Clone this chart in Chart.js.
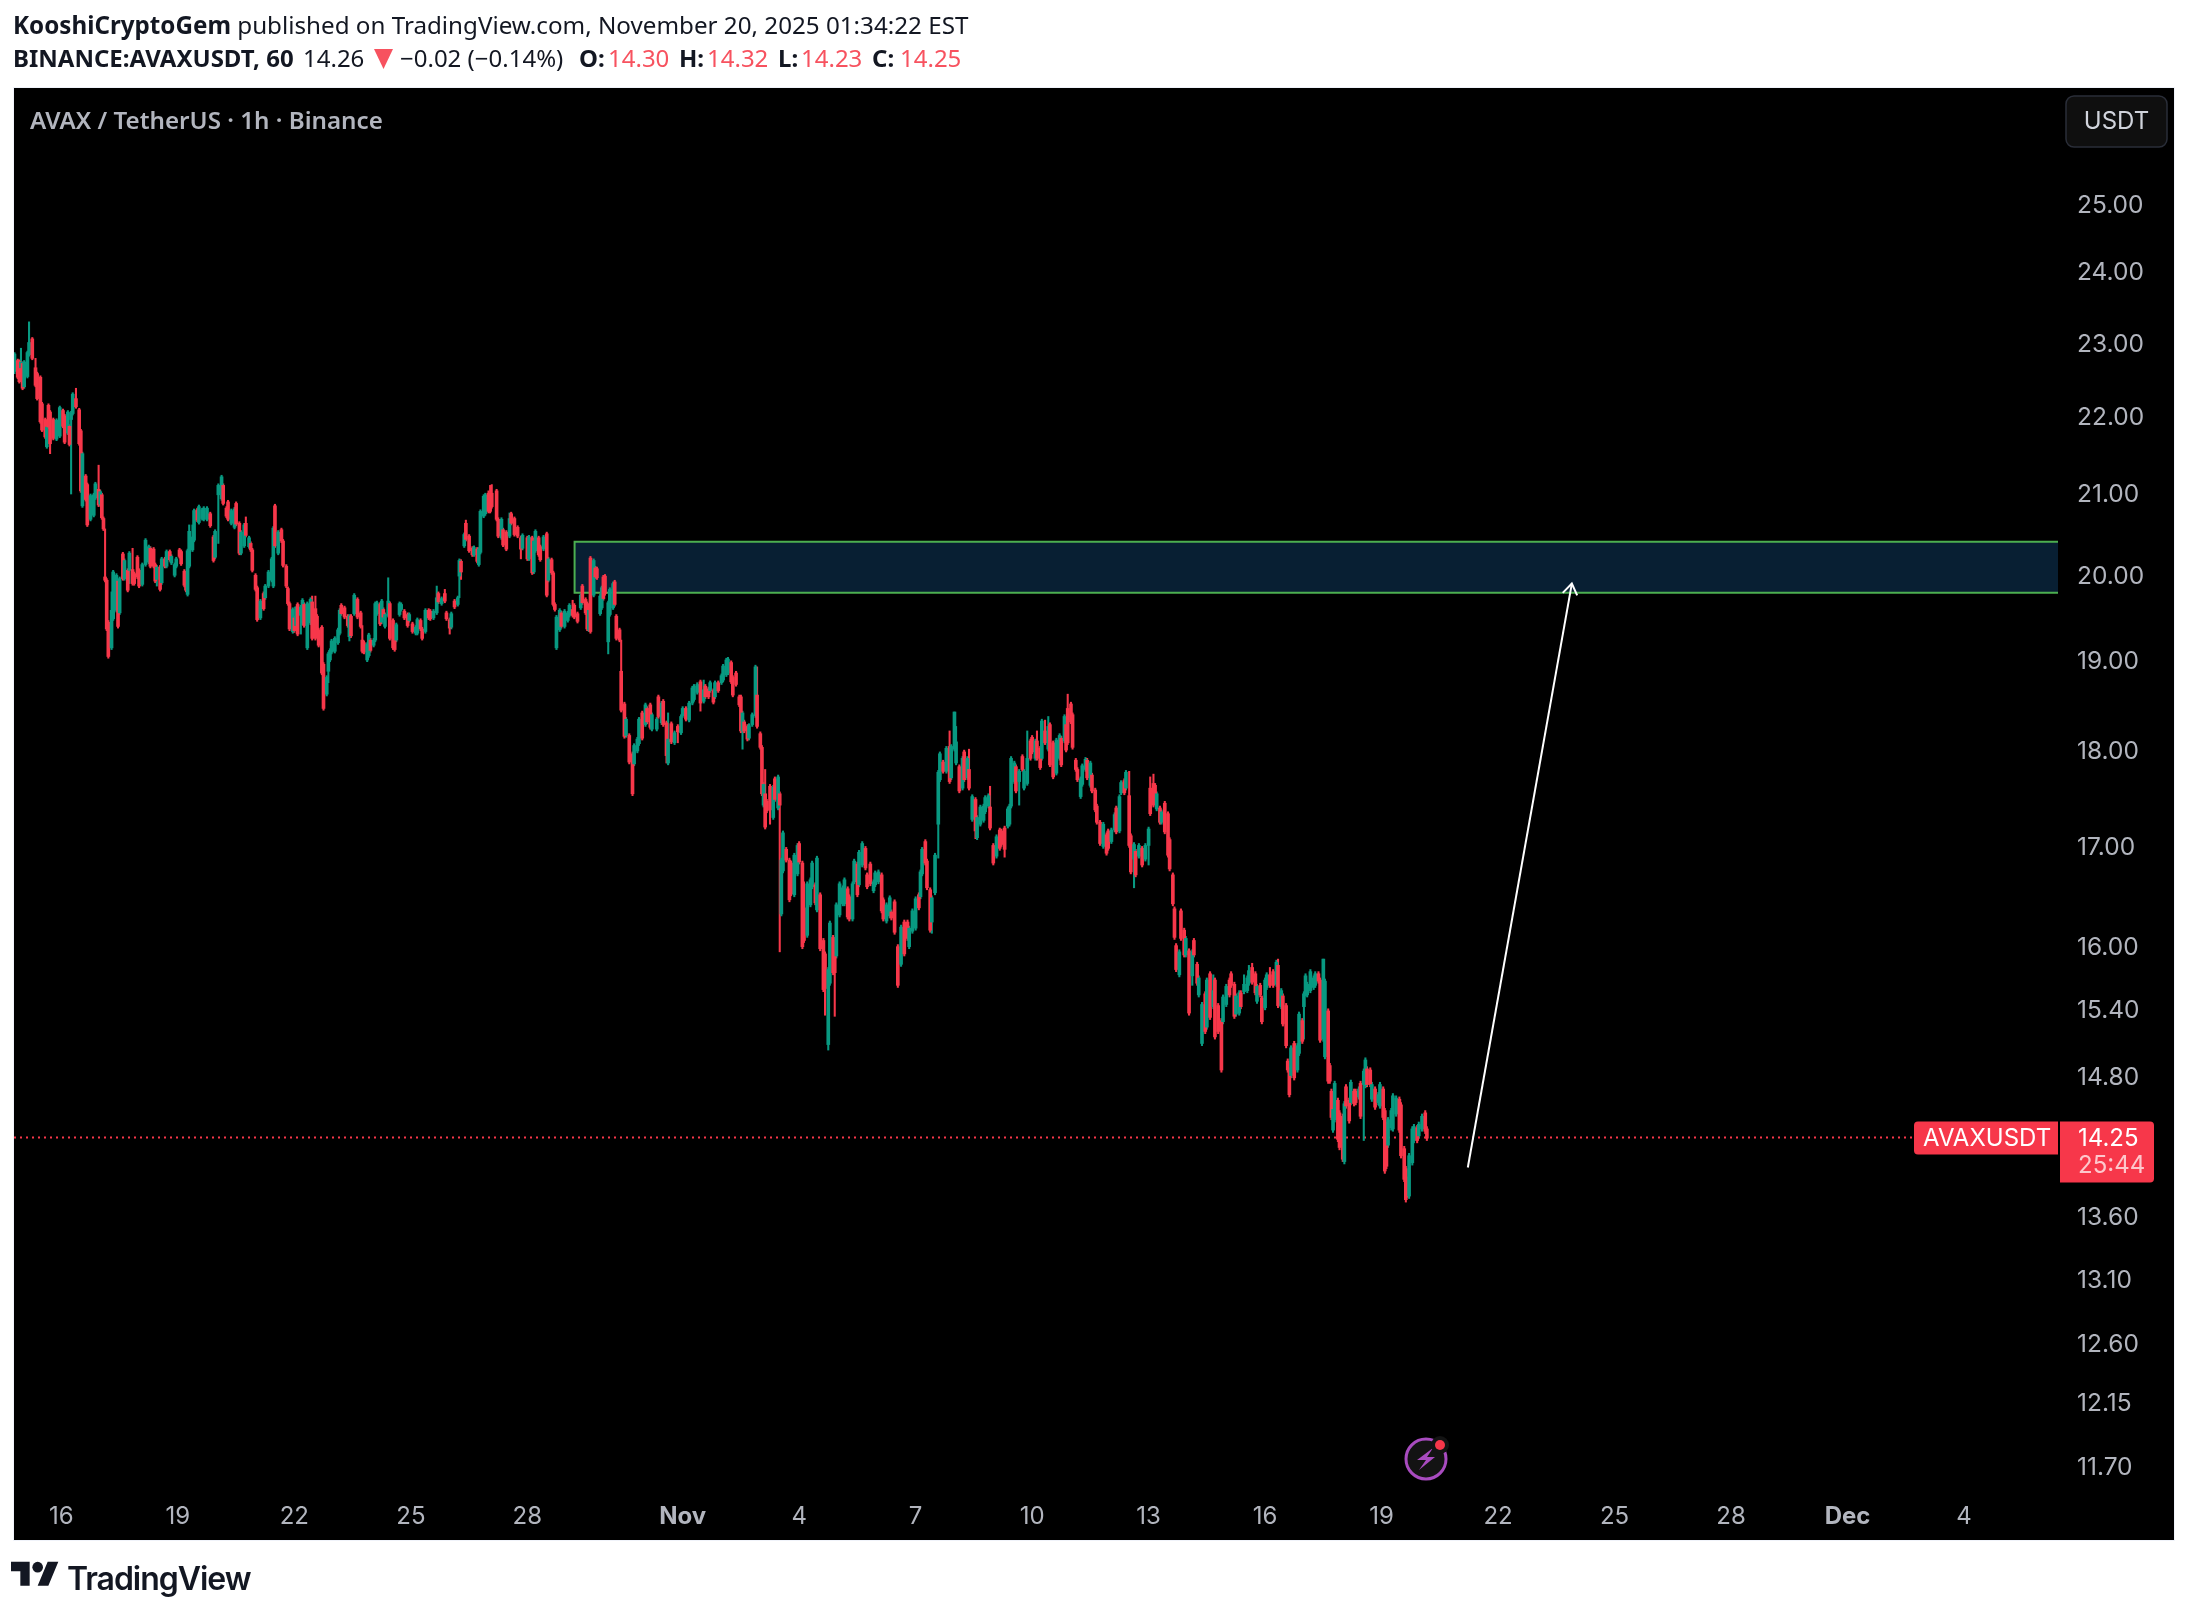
<!DOCTYPE html>
<html><head><meta charset="utf-8">
<script src="https://cdn.jsdelivr.net/npm/chart.js@4/dist/chart.umd.js"></script>
<style>
html,body{margin:0;padding:0;background:#fff;width:2188px;height:1614px;overflow:hidden}
canvas{position:absolute;left:0;top:0}
.t{position:absolute;white-space:pre;font-family:"Noto Sans",sans-serif;color:#131722}
.l2{top:41px;font-size:24px;line-height:34px}
b{font-weight:700}.r{color:#f7525f}
</style></head><body>
<canvas id="c" width="2188" height="1614"></canvas>
<div class="t" style="left:13px;top:8px;font-size:24.2px;line-height:34px"><b>KooshiCryptoGem</b> published on TradingView.com, November 20, 2025 01:34:22 EST</div>
<div class="t l2" style="left:13px"><b>BINANCE:AVAXUSDT, 60</b></div>
<div class="t l2" style="left:303px">14.26</div>
<svg style="position:absolute;left:374px;top:49px" width="19" height="20" viewBox="0 0 19 20"><path fill="#f7525f" d="M0 0H19L9.5 20Z"/></svg>
<div class="t l2" style="left:400px">−0.02 (−0.14%)</div>
<div class="t l2" style="left:579px"><b>O:</b></div><div class="t l2 r" style="left:608px">14.30</div>
<div class="t l2" style="left:679px"><b>H:</b></div><div class="t l2 r" style="left:707px">14.32</div>
<div class="t l2" style="left:778px"><b>L:</b></div><div class="t l2 r" style="left:801px">14.23</div>
<div class="t l2" style="left:872px"><b>C:</b></div><div class="t l2 r" style="left:900px">14.25</div>
<div class="t" style="left:30px;top:103px;font-size:24.2px;line-height:34px;color:#b2b5be;font-weight:600">AVAX / TetherUS · 1h · Binance</div>
<svg style="position:absolute;left:11px;top:1559px" width="48" height="31" viewBox="0 2 36 23"><path fill="#131722" d="M14 22H7V11H0V4h14v18zM28 22h-8l7.5-18h8L28 22z"/><circle fill="#131722" cx="20" cy="8" r="4"/></svg>
<div class="t" style="left:67px;top:1557px;font-size:32px;line-height:44px;font-family:Inter,sans-serif;font-weight:600;letter-spacing:-1.05px">TradingView</div>
<script>
const hoursA=[-29,-27,-26,-25,-24,-23,-21,-20,-18,-16,-15,-13,-12,-10,-9,-8,-7,-5,-3,-1,1,2,4,5,6,7,9,11,12,13,15,16,18,20,21,23,24,25,26,27,28,29,31,32,34,35,36,38,39,41,42,44,45,47,48,50,52,54,55,57,58,59,61,62,64,65,67,68,70,71,73,74,76,77,78,79,81,82,84,85,87,88,90,92,94,95,97,99,100,102,103,105,107,108,110,111,113,114,116,117,118,120,121,123,125,126,128,130,131,132,134,136,137,139,140,141,143,144,145,146];
const opensA=[22.63,22.78,22.77,22.68,22.74,22.42,22.56,22.86,23.08,22.68,22.60,22.55,22.19,21.98,21.62,22.17,22.08,21.98,21.72,21.76,22.10,22.03,21.80,21.89,21.98,22.06,22.26,22.11,21.83,20.86,21.24,21.13,20.69,20.74,20.96,21.07,20.88,21.00,20.70,19.98,19.94,19.44,19.14,19.48,19.58,19.93,19.55,20.26,19.96,20.06,20.06,20.07,20.02,20.22,20.06,19.89,20.13,20.16,20.33,20.32,20.13,19.95,20.10,19.91,20.20,20.11,20.29,20.15,20.00,20.11,20.31,20.29,20.05,20.02,19.77,20.11,20.31,20.43,20.81,20.65,20.70,20.69,20.69,20.76,20.47,20.22,21.00,20.95,21.12,20.83,20.91,20.64,20.59,20.89,20.64,20.27,20.36,20.64,20.35,20.39,20.31,20.00,19.85,19.49,19.78,19.73,19.87,19.94,19.87,20.86,20.27,20.56,20.42,20.11,19.84,19.66,19.33,19.49,19.40,19.65];
const closesA=[22.87,22.55,22.49,22.76,22.40,22.76,22.89,23.03,22.81,22.44,22.26,21.95,21.84,21.75,21.88,21.88,21.66,21.73,21.97,22.14,21.89,21.68,22.08,21.65,22.07,22.32,22.15,21.66,21.05,21.53,20.94,20.62,20.99,21.00,21.14,20.87,21.04,20.71,20.57,19.94,19.36,19.04,19.58,20.04,20.00,19.39,19.96,19.96,20.18,19.82,20.27,19.90,19.90,19.98,19.87,20.13,20.43,20.35,20.11,20.11,19.93,20.10,19.83,20.20,20.11,20.29,20.19,20.23,20.13,20.20,20.23,20.14,19.88,19.82,20.30,20.54,20.47,20.80,20.68,20.85,20.81,20.83,20.83,20.61,20.18,20.54,21.12,21.23,20.89,20.73,20.69,20.80,20.82,20.63,20.27,20.53,20.62,20.49,20.46,20.31,20.06,19.83,19.47,19.69,19.60,19.87,20.04,20.20,20.58,20.36,20.53,20.42,20.12,19.87,19.66,19.36,19.59,19.34,19.62,19.30];
const highsA=[22.89,22.80,22.79,22.95,22.76,22.78,22.91,23.32,23.10,22.81,22.62,22.57,22.21,22.00,21.90,22.19,22.10,22.00,21.99,22.16,22.12,22.05,22.10,21.91,22.09,22.34,22.40,22.13,21.85,21.55,21.26,21.15,21.01,21.02,21.16,21.38,21.06,21.02,20.72,20.57,19.96,19.46,19.80,20.06,20.02,19.95,19.98,20.28,20.20,20.08,20.29,20.33,20.04,20.24,20.08,20.15,20.45,20.37,20.35,20.34,20.15,20.12,20.12,20.22,20.22,20.31,20.31,20.25,20.15,20.22,20.33,20.31,20.07,20.04,20.32,20.62,20.62,20.82,20.83,20.87,20.83,20.85,20.85,20.78,20.49,20.56,21.14,21.25,21.14,20.85,20.93,20.82,20.84,20.91,20.66,20.55,20.64,20.72,20.48,20.41,20.33,20.02,19.87,19.71,19.80,19.89,20.06,20.22,20.60,20.88,20.55,20.58,20.44,20.13,19.86,19.68,19.61,19.51,19.62,19.67];
const lowsA=[22.60,22.53,22.47,22.64,22.38,22.40,22.54,22.84,22.79,22.42,22.24,21.93,21.82,21.73,21.60,21.86,21.53,21.71,21.70,21.74,21.87,21.66,21.78,21.63,21.01,22.04,22.13,21.64,21.03,20.84,20.92,20.60,20.67,20.72,20.94,20.85,20.86,20.69,20.55,19.92,19.34,19.02,19.12,19.46,19.56,19.37,19.53,19.94,19.94,19.80,19.90,19.88,19.88,19.96,19.85,19.87,20.11,20.14,20.09,20.09,19.91,19.87,19.81,19.89,20.09,20.09,20.17,20.13,19.98,20.09,20.21,20.12,19.86,19.80,19.75,20.09,20.29,20.41,20.66,20.63,20.68,20.67,20.67,20.59,20.16,20.20,20.39,20.93,20.87,20.71,20.67,20.62,20.57,20.61,20.25,20.25,20.34,20.47,20.33,20.29,20.04,19.81,19.45,19.47,19.58,19.71,19.85,19.92,19.85,20.34,20.25,20.40,20.10,19.85,19.64,19.34,19.31,19.32,19.38,19.28];
const hoursB=[148,149,150,152,154,155,157,158,159,161,162,164,165,166,167,169,171,172,173,175,177,178,179,181,183,185,186,187,189,190,191,193,194,195,197,198,199,200,202,203,205,206,207,209,210,212,214,215,217,219,220,222,223,225,227,228,230,232,233,235,237,238,240,241,243,245,246,247,249,250,252,254,255,257,258,259,261,262,264,265,266,269,270,272,273,275,277,278,280,282,284,285,288,289,291,292,293,295,296,298,300,301,303,304,305,306,308,309,311,313,314,316,317,319,321,322,324,325,326,327,329,330,331,333,334,335,336,338,339,341,342,343,345];
const opensB=[19.52,19.43,19.65,19.14,19.43,19.68,19.60,19.51,19.35,19.38,18.95,18.61,18.87,19.00,19.09,19.10,19.20,19.31,19.64,19.61,19.51,19.27,19.51,19.54,19.71,19.55,19.23,19.20,19.00,19.05,19.23,19.17,19.23,19.54,19.65,19.44,19.59,19.39,19.52,19.66,19.46,19.36,19.23,19.53,19.59,19.57,19.53,19.46,19.42,19.31,19.31,19.46,19.36,19.33,19.58,19.57,19.49,19.55,19.78,19.66,19.78,19.55,19.47,19.38,19.69,19.65,19.99,20.17,20.36,20.64,20.48,20.33,20.25,20.32,20.13,20.28,20.73,20.76,21.02,20.98,21.02,21.05,20.69,20.46,20.56,20.53,20.48,20.76,20.70,20.59,20.46,20.33,20.46,20.20,20.46,20.04,20.30,20.46,20.35,20.32,20.51,19.94,20.19,20.03,19.65,19.14,19.35,19.55,19.39,19.46,19.52,19.59,19.64,19.54,19.61,19.87,19.71,19.66,19.35,20.21,19.76,20.09,20.08,19.54,19.61,19.98,19.99,19.21,19.53,19.61,19.92,19.51,19.35];
const closesB=[19.62,19.70,19.40,19.66,19.71,19.25,19.25,19.35,19.17,18.85,18.45,18.80,19.07,19.11,19.22,19.25,19.35,19.58,19.54,19.50,19.40,19.51,19.28,19.76,19.50,19.39,19.10,19.09,19.18,19.29,19.11,19.23,19.66,19.67,19.42,19.69,19.50,19.53,19.69,19.25,19.14,19.12,19.41,19.66,19.65,19.49,19.40,19.53,19.33,19.38,19.47,19.36,19.25,19.58,19.49,19.48,19.57,19.73,19.68,19.72,19.69,19.48,19.37,19.54,19.62,19.73,20.18,20.04,20.50,20.44,20.30,20.25,20.34,20.17,20.32,20.79,20.98,21.00,20.79,20.79,20.85,20.69,20.48,20.69,20.37,20.32,20.70,20.64,20.50,20.48,20.32,20.49,20.20,20.47,20.03,20.42,20.54,20.25,20.19,20.47,19.76,20.20,20.03,19.65,19.59,19.50,19.58,19.39,19.57,19.55,19.64,19.52,19.50,19.45,19.76,19.67,19.55,19.36,19.58,19.33,20.18,19.98,19.97,19.75,19.85,19.72,19.78,19.67,19.83,19.90,19.65,19.25,19.23];
const highsB=[19.64,19.72,19.67,19.68,19.73,19.75,19.75,19.53,19.37,19.40,18.97,18.82,19.09,19.13,19.24,19.27,19.37,19.60,19.66,19.63,19.53,19.53,19.53,19.78,19.73,19.57,19.40,19.22,19.20,19.31,19.25,19.25,19.68,19.69,19.67,19.71,19.61,19.55,19.97,19.68,19.48,19.38,19.43,19.68,19.67,19.59,19.55,19.55,19.44,19.40,19.49,19.48,19.38,19.60,19.60,19.59,19.59,19.87,19.80,19.74,19.83,19.57,19.49,19.56,19.71,19.75,20.20,20.19,20.52,20.68,20.50,20.35,20.36,20.34,20.34,20.81,21.00,21.02,21.05,21.12,21.13,21.07,20.71,20.71,20.58,20.55,20.77,20.78,20.72,20.61,20.48,20.51,20.48,20.49,20.48,20.44,20.56,20.48,20.37,20.49,20.53,20.22,20.21,20.05,19.67,19.52,19.60,19.57,19.59,19.57,19.66,19.70,19.66,19.56,19.78,19.89,19.73,19.68,19.60,20.23,20.20,20.11,20.10,19.77,19.87,20.00,20.01,19.69,19.85,19.92,19.94,19.53,19.37];
const lowsB=[19.30,19.41,19.38,19.12,19.41,19.23,19.23,19.33,19.15,18.83,18.43,18.59,18.74,18.98,19.07,19.08,19.18,19.29,19.52,19.48,19.38,19.22,19.26,19.52,19.48,19.37,19.08,19.07,18.98,19.03,19.09,19.15,19.21,19.52,19.40,19.42,19.48,19.37,19.50,19.23,19.12,19.10,19.21,19.51,19.57,19.47,19.38,19.44,19.31,19.29,19.29,19.34,19.23,19.31,19.47,19.46,19.47,19.53,19.66,19.64,19.67,19.46,19.30,19.36,19.60,19.63,19.73,19.95,20.34,20.42,20.28,20.23,20.23,20.15,20.11,20.26,20.71,20.74,20.77,20.77,20.83,20.67,20.46,20.44,20.35,20.30,20.46,20.62,20.48,20.46,20.20,20.31,20.18,20.18,20.01,20.02,20.28,20.23,20.17,20.30,19.74,19.92,20.01,19.63,19.57,19.12,19.33,19.37,19.37,19.44,19.50,19.50,19.48,19.43,19.59,19.65,19.53,19.34,19.33,19.31,19.74,19.96,19.95,19.52,19.59,19.70,19.76,19.07,19.51,19.59,19.63,19.23,19.21];
const hoursC=[346,348,349,351,353,354,356,357,359,361,362,364,365,368,369,371,372,374,375,377,379,381,383,384,386,388,390,391,393,395,397,398,400,401,403,404,406,408,409,411,412,414,415,417,419,420,421,422,424,425,427,429,430,432,433,434,435,436,438,440,441,443,444,445,446,448,450,451,453,455,456,458,459,461,463,464,466,467,469,471,472,474,475,477,478,479,481,483,484,486,487,489,490,492,493,495,497,498,500,502,503,505,507,508,510,512,513,515,517,519,521,523,524,526,528,530,531];
const opensC=[18.87,18.50,18.15,18.15,17.95,17.84,17.98,18.06,18.40,18.27,18.45,18.49,18.22,18.22,18.58,18.29,18.53,18.29,17.85,18.28,18.07,18.25,18.18,18.37,18.45,18.32,18.51,18.55,18.63,18.75,18.53,18.70,18.67,18.65,18.65,18.58,18.74,18.74,18.77,18.83,18.85,18.97,18.80,18.85,18.58,18.58,18.20,18.30,18.25,18.12,18.27,18.37,18.60,18.17,18.02,17.40,17.52,17.44,17.60,17.27,17.68,17.37,17.52,16.29,16.72,16.94,16.83,16.80,16.48,16.69,17.00,16.80,16.35,16.08,16.38,16.56,16.58,16.33,16.48,16.03,15.90,15.05,15.62,16.06,15.90,15.88,16.28,16.39,16.39,16.54,16.46,16.24,16.61,16.79,16.58,16.78,16.95,16.68,16.79,16.52,16.58,16.61,16.68,16.43,16.22,16.27,16.31,16.41,15.97,15.80,16.21,16.21,15.97,16.12,16.15,16.48,16.46];
const closesC=[18.43,18.14,18.33,17.86,17.52,18.04,18.11,18.33,18.12,18.49,18.30,18.24,18.38,18.33,18.36,18.51,18.27,17.93,18.11,18.08,18.18,18.19,18.36,18.45,18.33,18.51,18.68,18.70,18.72,18.51,18.66,18.58,18.58,18.74,18.52,18.74,18.65,18.82,18.93,19.00,19.01,18.75,18.60,18.72,18.49,18.20,18.40,18.20,18.11,18.26,18.38,18.92,18.25,18.02,17.52,17.62,17.17,17.34,17.35,17.59,17.46,17.70,17.40,16.83,17.11,16.83,16.43,16.49,16.88,16.98,16.81,15.97,16.03,16.59,16.63,16.80,16.40,16.85,15.95,15.56,15.57,15.75,16.20,15.72,15.72,16.38,16.59,16.55,16.63,16.26,16.24,16.59,16.82,16.48,16.91,17.00,16.75,16.56,16.59,16.61,16.70,16.71,16.32,16.24,16.38,16.45,16.25,16.11,15.60,16.16,15.90,16.05,16.15,16.32,16.44,16.35,16.71];
const highsC=[19.23,18.52,18.35,18.17,17.97,18.06,18.13,18.35,18.42,18.51,18.47,18.51,18.40,18.35,18.60,18.53,18.55,18.31,18.40,18.30,18.20,18.27,18.38,18.47,18.47,18.53,18.70,18.72,18.74,18.77,18.77,18.72,18.69,18.76,18.67,18.76,18.76,18.84,18.95,19.02,19.03,18.99,18.82,18.87,18.60,18.60,18.42,18.32,18.27,18.28,18.40,18.94,18.92,18.19,18.04,17.64,17.78,17.46,17.62,17.61,17.70,17.72,17.54,16.85,17.13,16.96,16.85,16.82,16.90,17.00,17.02,16.82,16.61,16.61,16.65,16.82,16.60,16.87,16.50,16.05,15.92,15.77,16.22,16.08,15.92,16.40,16.61,16.57,16.65,16.56,16.48,16.61,16.84,16.81,16.93,17.02,16.97,16.70,16.81,16.63,16.72,16.73,16.70,16.45,16.40,16.47,16.33,16.43,15.99,16.18,16.23,16.23,16.17,16.34,16.46,16.50,16.73];
const lowsC=[18.41,18.12,18.13,17.84,17.50,17.82,17.96,18.04,18.10,18.25,18.28,18.22,18.20,18.20,18.34,18.27,18.25,17.85,17.83,18.06,18.05,18.07,18.16,18.35,18.31,18.30,18.49,18.53,18.61,18.42,18.51,18.56,18.56,18.63,18.50,18.56,18.63,18.72,18.75,18.81,18.83,18.73,18.58,18.70,18.47,18.18,18.00,18.18,18.09,18.10,18.25,18.35,18.23,18.00,17.50,17.38,17.15,17.32,17.20,17.25,17.44,17.35,15.92,16.27,16.70,16.81,16.41,16.47,16.46,16.67,16.79,15.95,16.01,16.06,16.36,16.54,16.38,16.31,15.93,15.54,15.32,15.00,15.60,15.70,15.31,15.86,16.26,16.37,16.37,16.24,16.22,16.22,16.59,16.46,16.56,16.76,16.73,16.54,16.57,16.50,16.56,16.59,16.30,16.22,16.20,16.25,16.23,16.09,15.58,15.78,15.88,16.03,15.95,16.10,16.13,16.33,16.44];
const hoursD=[532,534,535,537,538,540,542,543,545,547,549,550,552,553,555,557,558,560,561,563,565,566,568,570,571,573,574,576,578,580,581,583,585,586,587,589,590,592,594,595,597,599,600,602,603,605,606,608,610,611,613,615,617,618,620,621,622,624,625,627,628,630,631,633,634,636,637,639,640,642,644,646,647,649,651,652,654,655,657,658,660,661,663,664,666,668,670,672,673,675,676,677,679,680,682,684,685,687,688,689,691,692,694,695,697];
const opensD=[16.69,17.02,16.82,16.53,16.21,16.50,17.20,17.67,17.86,17.76,18.03,17.69,18.00,17.85,17.81,17.58,17.97,17.69,17.78,17.25,17.46,17.06,17.20,17.24,17.33,17.39,17.38,16.98,16.87,17.14,17.13,17.16,17.18,17.20,17.39,17.65,17.81,17.65,17.92,17.58,17.63,18.09,18.13,17.90,18.09,18.01,17.90,18.20,18.00,18.27,18.07,17.74,17.90,18.12,18.09,18.27,18.45,18.50,18.38,17.88,17.78,17.49,17.62,17.78,17.88,17.61,17.72,17.56,17.39,17.22,16.97,17.09,17.13,17.02,17.14,17.37,17.13,17.53,17.66,17.58,17.50,17.08,16.84,16.92,16.87,16.95,16.84,16.98,17.58,17.63,17.61,17.36,17.37,17.22,17.42,17.31,17.04,16.68,16.34,15.98,15.70,16.32,16.13,15.89,15.93];
const closesD=[16.94,16.80,16.55,16.13,16.45,16.88,17.75,17.95,17.76,18.01,17.65,18.03,18.41,18.08,17.55,17.90,17.67,17.90,17.58,17.49,17.13,17.27,17.38,17.39,17.48,17.50,17.16,16.80,17.07,16.95,16.99,16.94,17.36,17.39,17.90,17.85,17.55,17.76,17.78,17.76,17.90,17.90,17.97,18.09,17.90,17.80,18.31,18.07,18.25,17.83,17.70,18.10,18.15,17.83,18.36,17.99,18.07,18.30,18.02,17.78,17.67,17.68,17.82,17.89,17.69,17.85,17.55,17.35,17.22,17.00,17.20,16.90,16.95,17.14,17.30,17.12,17.49,17.64,17.53,17.75,16.98,16.71,16.99,16.68,16.98,16.78,16.98,17.15,17.31,17.40,17.52,17.52,17.22,17.33,17.12,16.88,16.74,16.39,16.06,15.75,15.92,16.05,15.89,16.05,15.34];
const highsD=[16.96,17.04,16.84,16.55,16.47,16.90,17.77,17.97,17.88,18.03,18.20,18.05,18.41,18.25,17.83,17.92,17.99,17.92,18.00,17.51,17.48,17.29,17.40,17.41,17.50,17.52,17.60,17.00,17.09,17.16,17.15,17.18,17.38,17.41,17.92,17.87,17.83,17.78,17.94,17.78,18.20,18.11,18.15,18.11,18.20,18.03,18.33,18.32,18.36,18.29,18.09,18.12,18.17,18.14,18.38,18.29,18.61,18.52,18.40,17.90,17.80,17.70,17.84,17.91,17.90,17.87,17.74,17.58,17.41,17.24,17.22,17.11,17.15,17.16,17.32,17.39,17.51,17.66,17.68,17.77,17.76,17.10,17.01,16.94,17.00,16.97,17.00,17.17,17.70,17.73,17.63,17.54,17.39,17.35,17.44,17.33,17.06,16.70,16.36,16.00,15.94,16.34,16.15,16.07,15.95];
const lowsD=[16.67,16.78,16.53,16.11,16.10,16.48,16.85,17.65,17.74,17.74,17.63,17.67,17.98,17.83,17.53,17.56,17.65,17.67,17.56,17.23,17.05,17.04,17.18,17.22,17.31,17.37,17.14,16.78,16.85,16.93,16.97,16.86,17.16,17.18,17.37,17.63,17.53,17.40,17.76,17.56,17.61,17.88,17.95,17.88,17.88,17.78,17.88,18.05,17.98,17.81,17.68,17.72,17.88,17.81,18.07,17.97,18.05,18.28,18.00,17.76,17.65,17.47,17.60,17.76,17.67,17.59,17.53,17.33,17.20,16.98,16.95,16.88,16.93,17.00,17.12,17.10,17.11,17.51,17.51,17.56,16.96,16.69,16.55,16.66,16.85,16.76,16.82,16.78,17.29,17.38,17.50,17.34,17.20,17.20,17.10,16.86,16.72,16.37,16.04,15.73,15.68,16.03,15.87,15.87,15.32];
const hoursE=[699,700,702,703,705,707,708,710,712,713,715,717,718,720,722,723,725,726,728,729,731,733,734,736,738,739,741,742,744,745,747,749,751,752,754,755,757,758,759,760,762,764,765,767,768,769,770,772,774,775,777,778,780,781,783,784,785,786,787,789,790,792,793,794,796,797,799,800,802,803,805,806,807,809,810,812,814,815,817,818,819,820,822,823,825,827,828,830,831,832,833,835,836,838,839,841,843,844];
const opensE=[15.69,16.03,15.80,15.51,15.06,15.52,15.21,15.71,15.40,15.65,15.41,15.27,15.26,15.42,15.65,15.71,15.61,15.33,15.34,15.53,15.54,15.55,15.62,15.77,15.71,15.45,15.60,15.48,15.39,15.58,15.70,15.73,15.61,15.79,15.40,15.50,15.41,14.90,14.82,14.77,15.06,14.82,14.97,15.27,15.40,15.52,15.51,15.55,15.58,15.60,15.71,15.65,15.10,14.94,15.36,14.86,14.63,14.29,14.38,14.55,14.44,14.41,14.02,14.67,14.55,14.53,14.63,14.63,14.58,14.70,14.69,14.68,14.83,14.82,14.56,14.65,14.53,14.50,14.65,14.46,14.34,14.16,14.31,14.30,14.43,14.56,14.51,14.13,13.96,13.87,13.73,14.01,14.20,14.31,14.24,14.30,14.44,14.30];
const closesE=[15.92,15.89,15.62,15.67,15.42,15.17,15.65,15.30,15.55,15.12,15.17,14.82,15.49,15.59,15.51,15.60,15.31,15.50,15.53,15.40,15.61,15.67,15.74,15.63,15.53,15.59,15.51,15.26,15.65,15.70,15.60,15.60,15.82,15.41,15.55,15.24,15.04,14.82,14.60,15.02,14.75,15.04,15.33,15.08,15.52,15.69,15.61,15.73,15.67,15.71,15.64,15.09,15.85,15.64,14.72,14.72,14.40,14.47,14.70,14.21,14.14,14.04,14.52,14.50,14.37,14.71,14.52,14.53,14.65,14.41,14.81,14.91,14.69,14.69,14.69,14.49,14.60,14.69,14.40,13.94,13.98,14.38,14.46,14.59,14.57,14.29,14.07,13.87,13.70,13.74,14.07,14.30,14.32,14.20,14.34,14.41,14.28,14.22];
const highsE=[15.94,16.05,15.82,15.69,15.44,15.54,15.67,15.73,15.70,15.67,15.43,15.29,15.51,15.61,15.67,15.73,15.63,15.52,15.55,15.55,15.70,15.69,15.79,15.81,15.73,15.61,15.62,15.50,15.67,15.72,15.77,15.75,15.84,15.85,15.57,15.52,15.43,14.92,14.84,15.04,15.08,15.06,15.35,15.29,15.54,15.71,15.63,15.75,15.69,15.73,15.73,15.67,15.85,15.66,15.38,14.88,14.65,14.49,14.72,14.57,14.46,14.43,14.54,14.69,14.57,14.73,14.65,14.65,14.67,14.72,14.83,14.93,14.85,14.84,14.71,14.67,14.62,14.71,14.67,14.48,14.36,14.40,14.48,14.61,14.59,14.58,14.53,14.15,13.98,13.89,14.09,14.32,14.34,14.33,14.36,14.43,14.46,14.32];
const lowsE=[15.60,15.87,15.60,15.49,15.04,15.15,15.19,15.28,15.38,15.10,15.15,14.80,15.24,15.40,15.49,15.58,15.29,15.31,15.32,15.38,15.52,15.53,15.60,15.61,15.51,15.43,15.49,15.24,15.37,15.56,15.58,15.58,15.59,15.39,15.38,15.22,15.02,14.80,14.58,14.75,14.73,14.80,14.95,15.06,15.10,15.50,15.49,15.53,15.56,15.58,15.62,15.07,15.08,14.92,14.70,14.70,14.38,14.27,14.36,14.19,14.12,14.02,14.00,14.48,14.35,14.51,14.50,14.51,14.56,14.39,14.20,14.66,14.67,14.67,14.54,14.47,14.51,14.48,14.38,13.92,13.96,14.14,14.29,14.28,14.41,14.27,14.05,13.85,13.68,13.72,13.71,13.99,14.18,14.18,14.22,14.28,14.26,14.20];

const priceTickLabels=["25.00","24.00","23.00","22.00","21.00","20.00","19.00","18.00","17.00","16.00","15.40","14.80","13.60","13.10","12.60","12.15","11.70"];
const priceTickLevels=[25.02,24.02,23,22,21,19.98,18.98,17.97,16.96,15.96,15.36,14.75,13.55,13.045,12.547,12.11,11.65];
const timeTickHours=[0,72,144,216,288,384,456,528,600,672,744,816,888,960,1032,1104,1176];
const timeTickLabels=["16","19","22","25","28","Nov","4","7","10","13","16","19","22","25","28","Dec","4"];
const lastPrice="14.25", lastPriceLevel=14.226, countdown="25:44", symbol="AVAXUSDT";
const zonePrices=[19.79,20.41], zoneHours=[317.2,1234.1];
const arrowHours=[869.3,933.6], arrowPrices=[13.97,19.90];
const priceLineHours=[-29.3,1145];

const hours=[...hoursA,...hoursB,...hoursC,...hoursD,...hoursE];
const opens=[...opensA,...opensB,...opensC,...opensD,...opensE];
const closes=[...closesA,...closesB,...closesC,...closesD,...closesE];
const highs=[...highsA,...highsB,...highsC,...highsD,...highsE];
const lows=[...lowsA,...lowsB,...lowsC,...lowsD,...lowsE];

const UP='#089981',DOWN='#f7374a';
const FONT='Inter, sans-serif';
const colors=hours.map((h,i)=>closes[i]>=opens[i]?UP:DOWN);

const overlay={id:'overlay',
 beforeDraw(ch){const c=ch.ctx;c.save();c.fillStyle='#fff';c.fillRect(0,0,2188,1614);c.fillStyle='#f0f3fa';c.fillRect(13,87,2162,1454);c.fillStyle='#000';c.fillRect(14,88,2160,1452);c.restore();},
 beforeDatasetsDraw(ch){const c=ch.ctx,x=ch.scales.x,y=ch.scales.y;c.save();
  const x0=x.getPixelForValue(zoneHours[0]),x1=x.getPixelForValue(zoneHours[1]),y0=y.getPixelForValue(zonePrices[1]),y1=y.getPixelForValue(zonePrices[0]);
  c.fillStyle='#081f33';c.fillRect(x0,y0,x1-x0,y1-y0);
  c.strokeStyle='#4caf50';c.lineWidth=2;c.beginPath();c.moveTo(x1,y0);c.lineTo(x0,y0);c.lineTo(x0,y1);c.lineTo(x1,y1);c.stroke();c.restore();},
 afterDraw(ch){const c=ch.ctx,x=ch.scales.x,y=ch.scales.y;c.save();
  const tx=x.getPixelForValue(arrowHours[1]),ty=y.getPixelForValue(arrowPrices[1]),bx=x.getPixelForValue(arrowHours[0]),by=y.getPixelForValue(arrowPrices[0]);
  const a=Math.atan2(by-ty,bx-tx);c.strokeStyle='#fff';c.lineWidth=2;c.beginPath();
  c.moveTo(tx+13*Math.cos(a+0.6),ty+13*Math.sin(a+0.6));c.lineTo(tx,ty);c.lineTo(tx+13*Math.cos(a-0.6),ty+13*Math.sin(a-0.6));c.stroke();
  const py=y.getPixelForValue(lastPriceLevel)+1;
  c.fillStyle=DOWN;c.beginPath();c.roundRect(1914,py-17,144,33,[4,0,0,4]);c.fill();
  c.beginPath();c.roundRect(2060,py-17,94,61,[0,4,4,0]);c.fill();
  c.font='24px '+FONT;c.textBaseline='middle';c.textAlign='left';c.fillStyle='#fff';
  c.fillText(symbol,1923,py);c.fillText(lastPrice,2078,py);
  c.fillStyle='rgba(255,255,255,0.72)';c.fillText(countdown,2078,py+27);
  c.fillStyle='#0f0f0f';c.strokeStyle='#2a2e39';c.lineWidth=1.5;c.beginPath();c.roundRect(2066,96,101,51,8);c.fill();c.stroke();
  c.fillStyle='#d1d4dc';c.textAlign='center';c.fillText('USDT',2116.5,122);
  c.fillStyle='#131313';c.beginPath();c.arc(1426,1459,21,0,7);c.fill();
  c.strokeStyle='#a84bbf';c.lineWidth=3;c.beginPath();c.arc(1426,1459,20,0,7);c.stroke();
  c.fillStyle='#a84bbf';c.beginPath();[[7,-11],[-9,1],[0,1],[-7,11],[9,-2],[1,-2]].forEach((p,i)=>i?c.lineTo(1426+p[0],1459+p[1]):c.moveTo(1426+p[0],1459+p[1]));c.closePath();c.fill();
  c.fillStyle='#131313';c.beginPath();c.arc(1440,1445,9,0,7);c.fill();
  c.fillStyle='#f7374a';c.beginPath();c.arc(1440,1445,5,0,7);c.fill();
  c.restore();}
};

new Chart(document.getElementById('c'),{
 type:'bar',
 data:{datasets:[
  {type:'line',data:priceLineHours.map(h=>({x:h,y:lastPriceLevel})),borderColor:DOWN,borderWidth:2,borderDash:[2,4],pointRadius:0,order:5},
  {data:hours.map((h,i)=>({x:h,y:[lows[i],highs[i]]})),backgroundColor:colors,barThickness:1.4,order:3,grouped:false},
  {data:hours.map((h,i)=>({x:h,y:[opens[i],closes[i]]})),backgroundColor:colors,barThickness:3,minBarLength:1,order:2,grouped:false},
  {type:'line',data:arrowHours.map((h,i)=>({x:h,y:arrowPrices[i]})),borderColor:'#fff',borderWidth:2,pointRadius:0,order:1}
 ]},
 options:{responsive:false,animation:false,devicePixelRatio:1,
  layout:{padding:{left:14,right:14,top:88,bottom:74}},
  plugins:{legend:{display:false},tooltip:{enabled:false}},
  scales:{
   x:{type:'linear',offset:false,min:-29.3,max:1234.1,grid:{display:false},border:{display:false},
      afterBuildTicks(s){s.ticks=timeTickHours.map(v=>({value:v}));},
      afterFit(s){s.height=50;},
      ticks:{autoSkip:false,maxRotation:0,padding:4.5,color:'#b2b5be',
        font(ctx){const l=timeTickLabels[ctx.index];return {family:FONT,size:24,weight:(l==='Nov'||l==='Dec')?'700':'400'};},
        callback(v,i){return timeTickLabels[i];}}},
   y:{type:'logarithmic',position:'right',min:11.49,max:26.87,grid:{display:false},border:{display:false},
      afterBuildTicks(s){s.ticks=priceTickLevels.map(v=>({value:v}));},
      afterFit(s){s.width=116;},
      ticks:{autoSkip:false,padding:11,color:'#b2b5be',font:{family:FONT,size:24.5},
        callback(v,i){return priceTickLabels[i];}}}
  }},
 plugins:[overlay]
});
</script>
</body></html>
